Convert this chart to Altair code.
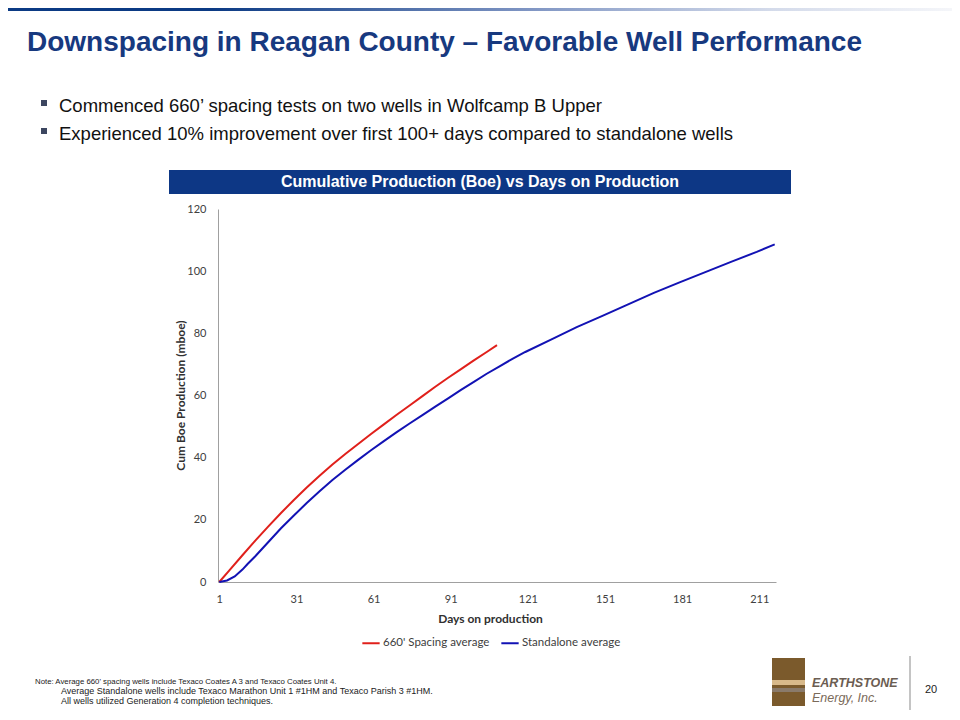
import altair as alt
import pandas as pd

# ---------------- data ----------------
spacing_days = [1, 5, 10, 15, 20, 25, 30, 35, 40, 45, 50, 55, 60, 65, 70, 75, 80, 85, 90, 95, 100, 105, 109]
spacing_cum = [0, 3.8, 8.6, 13.3, 17.8, 22.2, 26.4, 30.4, 34.2, 37.8, 41.2, 44.4, 47.6, 50.7, 53.8, 56.8, 59.8,
               62.8, 65.7, 68.5, 71.3, 74.0, 76.2]

standalone_days = [1, 4, 7, 10, 12, 15, 20, 25, 30, 35, 40, 45, 50, 55, 60, 65, 70, 75, 80, 85, 90, 95, 100,
                   105, 110, 115, 120, 130, 140, 150, 160, 170, 180, 190, 200, 210, 217]
standalone_cum = [0, 0.5, 1.8, 4.0, 5.8, 8.3, 12.8, 17.3, 21.4, 25.4, 29.2, 32.8, 36.1, 39.3, 42.4, 45.3, 48.2,
                  51.0, 53.7, 56.4, 59.1, 61.8, 64.4, 67.0, 69.4, 71.8, 74.0, 78.0, 82.0, 85.6, 89.3, 93.0, 96.4,
                  99.7, 103.0, 106.2, 108.6]

series_names = ["660' Spacing average", "Standalone average"]
series_colors = ["#e0201b", "#1212b4"]
x_ticks = [1, 31, 61, 91, 121, 151, 181, 211]
y_ticks = [0, 20, 40, 60, 80, 100, 120]

title_text = "Downspacing in Reagan County \u2013 Favorable Well Performance"
bullets = ["Commenced 660\u2019 spacing tests on two wells in Wolfcamp B Upper",
           "Experienced 10% improvement over first 100+ days compared to standalone wells"]
header_text = "Cumulative Production (Boe) vs Days on Production"
note_lines = ["Note: Average 660' spacing wells include Texaco Coates A 3 and Texaco Coates Unit 4.",
              "Average Standalone wells include Texaco Marathon Unit 1 #1HM and Texaco Parish 3 #1HM.",
              "All wells utilized Generation 4 completion techniques."]
logo_lines = ["EARTHSTONE", "Energy, Inc."]
page_number = "20"

df = pd.concat([
    pd.DataFrame({"day": spacing_days, "cum": spacing_cum, "series": series_names[0]}),
    pd.DataFrame({"day": standalone_days, "cum": standalone_cum, "series": series_names[1]}),
])

# plot area origin sits at page (218, 209); all decorations are relative to it
one = pd.DataFrame({"k": [0]})


def label(text, x, y, size, color="#111111", weight="normal", style="normal", align="left",
          baseline="alphabetic", font="Liberation Sans"):
    return alt.Chart(pd.DataFrame({"t": [text]})).mark_text(
        align=align, baseline=baseline, font=font, fontSize=size, fontWeight=weight,
        fontStyle=style, color=color).encode(text="t:N", x=alt.value(x), y=alt.value(y))


def box(x, x2, y, y2, color):
    return alt.Chart(one).mark_rect(color=color).encode(
        x=alt.value(x), x2=alt.value(x2), y=alt.value(y), y2=alt.value(y2))


lines = alt.Chart(df).mark_line(strokeWidth=2).encode(
    x=alt.X("day:Q", scale=alt.Scale(domain=[0.5, 217.5], nice=False, zero=False),
            axis=alt.Axis(values=x_ticks, title="Days on production", grid=False, ticks=False, tickSize=0,
                          domainColor="#a0a0a0", labelPadding=11, labelFont="Lato", labelFontSize=11,
                          labelColor="#404040", titleFont="Lato", titleFontSize=12, titleFontWeight="bold",
                          titleColor="#303030", titleX=272, titleY=36, titleBaseline="middle")),
    y=alt.Y("cum:Q", scale=alt.Scale(domain=[0, 120], nice=False),
            axis=alt.Axis(values=y_ticks, title="Cum Boe Production (mboe)", grid=False, ticks=False,
                          tickSize=0, domainColor="#a0a0a0", labelPadding=12, labelFont="Lato",
                          labelFontSize=11, labelColor="#404040", titleFont="Lato", titleFontSize=12,
                          titleFontWeight="bold", titleColor="#303030", titleX=-38, titleY=186,
                          titleAngle=-90, titleBaseline="middle", titleAlign="center")),
    color=alt.Color("series:N", scale=alt.Scale(domain=series_names, range=series_colors),
                    legend=alt.Legend(title=None, orient="none", legendX=143, legendY=424,
                                      direction="horizontal", symbolType="stroke", symbolStrokeWidth=2,
                                      symbolSize=300, labelFont="Lato", labelFontSize=11.5,
                                      labelColor="#404040", labelOffset=2, columnPadding=7)),
    detail="series:N",
)

# top gradient bar
top_bar = alt.Chart(one).mark_rect(
    color=alt.Gradient(gradient="linear", x1=0, x2=1, y1=0, y2=0,
                       stops=[alt.GradientStop(offset=0, color="#0b3a84"),
                              alt.GradientStop(offset=0.22, color="#0b3a84"),
                              alt.GradientStop(offset=0.55, color="#7f95c3"),
                              alt.GradientStop(offset=0.8, color="#d3daea"),
                              alt.GradientStop(offset=1, color="#f6f7fa")])
).encode(x=alt.value(-218), x2=alt.value(742), y=alt.value(-201), y2=alt.value(-198))

title = label(title_text, -191, -158, 28, color="#17397f", weight="bold")
bullet_text1 = label(bullets[0], -159, -97, 18.5)
bullet_text2 = label(bullets[1], -159, -69, 18.5)
bullet_sq1 = box(-177, -171, -109, -103, "#3c4660")
bullet_sq2 = box(-177, -171, -81, -75, "#3c4660")

header_box = box(-49, 573, -39, -15, "#0d3785")
header = label(header_text, 262, -27, 16, color="white", weight="bold", align="center", baseline="middle")

note1 = label(note_lines[0], -183, 475, 7.8, color="#222222")
note2 = label(note_lines[1], -157, 485, 9, color="#222222")
note3 = label(note_lines[2], -157, 495, 9, color="#222222")

# logo (simplified)
logo_main = box(554, 587, 449, 497, "#7b5a2c")
logo_s1 = box(554, 587, 471, 476, "#d8b98a")
logo_s2 = box(554, 587, 479, 483, "#8a7a6a")
logo_t1 = label(logo_lines[0], 594, 478, 12.5, color="#6b5d52", weight="bold", style="italic")
logo_t2 = label(logo_lines[1], 594, 493, 12.5, color="#7a6a5a", style="italic")
logo_rule = alt.Chart(one).mark_rule(color="#b0b0b0", strokeWidth=1.5).encode(
    x=alt.value(692), y=alt.value(447), y2=alt.value(501))
page_num = label(page_number, 713, 481, 11, color="#222222", align="center", baseline="middle")

chart = alt.layer(
    top_bar, title, bullet_sq1, bullet_sq2, bullet_text1, bullet_text2, header_box, header,
    lines, note1, note2, note3, logo_main, logo_s1, logo_s2, logo_t1, logo_t2, logo_rule, page_num
).properties(
    width=558, height=373, autosize="none",
    padding={"left": 210, "top": 201, "right": 176, "bottom": 130},
    background="white",
).configure_view(stroke=None)

chart.save("out.html", embed_options={"renderer": "svg", "actions": False})
